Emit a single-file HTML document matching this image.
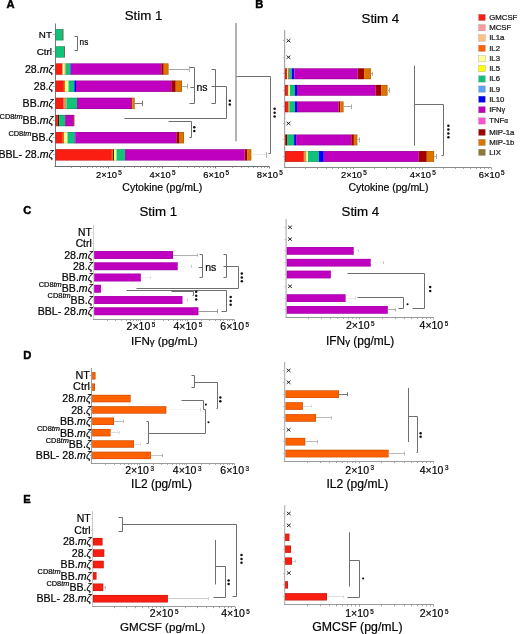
<!DOCTYPE html>
<html><head><meta charset="utf-8"><style>
html,body{margin:0;padding:0;background:#fff;}
svg{display:block;will-change:transform;}
text{stroke:#111;stroke-width:0.22px;}
text[font-weight=bold]{stroke:#000;stroke-width:0.45px;}
</style></head><body>
<svg width="520" height="634" viewBox="0 0 520 634" font-family="Liberation Sans, sans-serif">
<rect width="520" height="634" fill="#fff"/>
<text x="6.60" y="7.80" font-size="11.2" text-anchor="start" font-weight="bold" font-style="normal" fill="#000">A</text>
<text x="255.20" y="7.50" font-size="11.2" text-anchor="start" font-weight="bold" font-style="normal" fill="#000">B</text>
<text x="143.50" y="20.20" font-size="13.3" text-anchor="middle" font-weight="normal" font-style="normal" fill="#000">Stim 1</text>
<text x="380.40" y="23.10" font-size="13.3" text-anchor="middle" font-weight="normal" font-style="normal" fill="#000">Stim 4</text>
<line x1="55.50" y1="23.50" x2="55.50" y2="166.70" stroke="#7a7a7a" stroke-width="1.0"/>
<line x1="54.50" y1="166.50" x2="269.50" y2="166.50" stroke="#6a6a6a" stroke-width="1"/>
<line x1="53.20" y1="34.50" x2="54.50" y2="34.50" stroke="#7a7a7a" stroke-width="0.8"/>
<line x1="53.20" y1="51.50" x2="54.50" y2="51.50" stroke="#7a7a7a" stroke-width="0.8"/>
<line x1="53.20" y1="69.50" x2="54.50" y2="69.50" stroke="#7a7a7a" stroke-width="0.8"/>
<line x1="53.20" y1="86.50" x2="54.50" y2="86.50" stroke="#7a7a7a" stroke-width="0.8"/>
<line x1="53.20" y1="103.50" x2="54.50" y2="103.50" stroke="#7a7a7a" stroke-width="0.8"/>
<line x1="53.20" y1="120.50" x2="54.50" y2="120.50" stroke="#7a7a7a" stroke-width="0.8"/>
<line x1="53.20" y1="137.50" x2="54.50" y2="137.50" stroke="#7a7a7a" stroke-width="0.8"/>
<line x1="53.20" y1="154.50" x2="54.50" y2="154.50" stroke="#7a7a7a" stroke-width="0.8"/>
<line x1="71.50" y1="166.70" x2="71.50" y2="168.00" stroke="#999" stroke-width="0.9"/>
<line x1="80.50" y1="166.70" x2="80.50" y2="168.00" stroke="#999" stroke-width="0.9"/>
<line x1="87.50" y1="166.70" x2="87.50" y2="168.00" stroke="#999" stroke-width="0.9"/>
<line x1="92.50" y1="166.70" x2="92.50" y2="168.00" stroke="#999" stroke-width="0.9"/>
<line x1="96.50" y1="166.70" x2="96.50" y2="168.00" stroke="#999" stroke-width="0.9"/>
<line x1="100.50" y1="166.70" x2="100.50" y2="168.00" stroke="#999" stroke-width="0.9"/>
<line x1="103.50" y1="166.70" x2="103.50" y2="168.00" stroke="#999" stroke-width="0.9"/>
<line x1="106.50" y1="166.70" x2="106.50" y2="168.00" stroke="#999" stroke-width="0.9"/>
<line x1="124.50" y1="166.70" x2="124.50" y2="168.00" stroke="#999" stroke-width="0.9"/>
<line x1="134.50" y1="166.70" x2="134.50" y2="168.00" stroke="#999" stroke-width="0.9"/>
<line x1="140.50" y1="166.70" x2="140.50" y2="168.00" stroke="#999" stroke-width="0.9"/>
<line x1="146.50" y1="166.70" x2="146.50" y2="168.00" stroke="#999" stroke-width="0.9"/>
<line x1="150.50" y1="166.70" x2="150.50" y2="168.00" stroke="#999" stroke-width="0.9"/>
<line x1="153.50" y1="166.70" x2="153.50" y2="168.00" stroke="#999" stroke-width="0.9"/>
<line x1="157.50" y1="166.70" x2="157.50" y2="168.00" stroke="#999" stroke-width="0.9"/>
<line x1="159.50" y1="166.70" x2="159.50" y2="168.00" stroke="#999" stroke-width="0.9"/>
<line x1="178.50" y1="166.70" x2="178.50" y2="168.00" stroke="#999" stroke-width="0.9"/>
<line x1="187.50" y1="166.70" x2="187.50" y2="168.00" stroke="#999" stroke-width="0.9"/>
<line x1="194.50" y1="166.70" x2="194.50" y2="168.00" stroke="#999" stroke-width="0.9"/>
<line x1="199.50" y1="166.70" x2="199.50" y2="168.00" stroke="#999" stroke-width="0.9"/>
<line x1="203.50" y1="166.70" x2="203.50" y2="168.00" stroke="#999" stroke-width="0.9"/>
<line x1="207.50" y1="166.70" x2="207.50" y2="168.00" stroke="#999" stroke-width="0.9"/>
<line x1="210.50" y1="166.70" x2="210.50" y2="168.00" stroke="#999" stroke-width="0.9"/>
<line x1="213.50" y1="166.70" x2="213.50" y2="168.00" stroke="#999" stroke-width="0.9"/>
<line x1="232.50" y1="166.70" x2="232.50" y2="168.00" stroke="#999" stroke-width="0.9"/>
<line x1="241.50" y1="166.70" x2="241.50" y2="168.00" stroke="#999" stroke-width="0.9"/>
<line x1="248.50" y1="166.70" x2="248.50" y2="168.00" stroke="#999" stroke-width="0.9"/>
<line x1="253.50" y1="166.70" x2="253.50" y2="168.00" stroke="#999" stroke-width="0.9"/>
<line x1="257.50" y1="166.70" x2="257.50" y2="168.00" stroke="#999" stroke-width="0.9"/>
<line x1="261.50" y1="166.70" x2="261.50" y2="168.00" stroke="#999" stroke-width="0.9"/>
<line x1="264.50" y1="166.70" x2="264.50" y2="168.00" stroke="#999" stroke-width="0.9"/>
<line x1="267.50" y1="166.70" x2="267.50" y2="168.00" stroke="#999" stroke-width="0.9"/>
<line x1="108.50" y1="166.70" x2="108.50" y2="168.40" stroke="#6a6a6a" stroke-width="0.9"/>
<line x1="162.50" y1="166.70" x2="162.50" y2="168.40" stroke="#6a6a6a" stroke-width="0.9"/>
<line x1="215.50" y1="166.70" x2="215.50" y2="168.40" stroke="#6a6a6a" stroke-width="0.9"/>
<line x1="269.50" y1="166.70" x2="269.50" y2="168.40" stroke="#6a6a6a" stroke-width="0.9"/>
<rect x="55.50" y="29.10" width="7.20" height="11.30" fill="#10c27a"/>
<rect x="62.70" y="29.10" width="0.60" height="11.30" fill="#3a1a00"/>
<rect x="55.80" y="29.40" width="7.20" height="10.70" fill="none" stroke="#000" stroke-opacity="0.22" stroke-width="0.6"/>
<rect x="55.50" y="46.26" width="8.50" height="11.30" fill="#10c27a"/>
<rect x="64.00" y="46.26" width="0.60" height="11.30" fill="#3a1a00"/>
<rect x="55.80" y="46.56" width="8.50" height="10.70" fill="none" stroke="#000" stroke-opacity="0.22" stroke-width="0.6"/>
<rect x="55.50" y="63.42" width="6.70" height="11.30" fill="#fa1e12"/>
<rect x="62.20" y="63.42" width="0.80" height="11.30" fill="#c8a050"/>
<rect x="63.00" y="63.42" width="1.60" height="11.30" fill="#ffff99"/>
<rect x="64.60" y="63.42" width="1.20" height="11.30" fill="#c8a050"/>
<rect x="65.80" y="63.42" width="4.70" height="11.30" fill="#10c27a"/>
<rect x="70.50" y="63.42" width="0.50" height="11.30" fill="#0000ff"/>
<rect x="71.00" y="63.42" width="90.25" height="11.30" fill="#bf00bf"/>
<rect x="161.25" y="63.42" width="2.50" height="11.30" fill="#a00000"/>
<rect x="163.75" y="63.42" width="4.75" height="11.30" fill="#dc7400"/>
<rect x="55.80" y="63.72" width="112.40" height="10.70" fill="none" stroke="#000" stroke-opacity="0.22" stroke-width="0.6"/>
<rect x="55.50" y="80.58" width="8.40" height="11.30" fill="#fa1e12"/>
<rect x="63.90" y="80.58" width="1.10" height="11.30" fill="#dc7400"/>
<rect x="65.00" y="80.58" width="3.50" height="11.30" fill="#ffff99"/>
<rect x="68.50" y="80.58" width="5.80" height="11.30" fill="#10c27a"/>
<rect x="74.30" y="80.58" width="1.70" height="11.30" fill="#0000ff"/>
<rect x="76.00" y="80.58" width="95.25" height="11.30" fill="#bf00bf"/>
<rect x="171.25" y="80.58" width="4.50" height="11.30" fill="#a00000"/>
<rect x="175.75" y="80.58" width="6.25" height="11.30" fill="#dc7400"/>
<rect x="55.80" y="80.88" width="125.90" height="10.70" fill="none" stroke="#000" stroke-opacity="0.22" stroke-width="0.6"/>
<rect x="55.50" y="97.74" width="8.20" height="11.30" fill="#fa1e12"/>
<rect x="63.70" y="97.74" width="2.90" height="11.30" fill="#c8a050"/>
<rect x="66.60" y="97.74" width="10.40" height="11.30" fill="#10c27a"/>
<rect x="77.00" y="97.74" width="54.20" height="11.30" fill="#bf00bf"/>
<rect x="131.20" y="97.74" width="1.10" height="11.30" fill="#a00000"/>
<rect x="132.30" y="97.74" width="2.30" height="11.30" fill="#dc7400"/>
<rect x="55.80" y="98.04" width="78.50" height="10.70" fill="none" stroke="#000" stroke-opacity="0.22" stroke-width="0.6"/>
<rect x="55.50" y="114.90" width="2.30" height="11.30" fill="#fa1e12"/>
<rect x="57.80" y="114.90" width="1.30" height="11.30" fill="#3a1a00"/>
<rect x="59.10" y="114.90" width="6.00" height="11.30" fill="#10c27a"/>
<rect x="65.10" y="114.90" width="8.30" height="11.30" fill="#bf00bf"/>
<rect x="73.40" y="114.90" width="0.90" height="11.30" fill="#a00000"/>
<rect x="55.80" y="115.20" width="18.20" height="10.70" fill="none" stroke="#000" stroke-opacity="0.22" stroke-width="0.6"/>
<rect x="55.50" y="132.06" width="7.30" height="11.30" fill="#fa1e12"/>
<rect x="62.80" y="132.06" width="1.20" height="11.30" fill="#dc7400"/>
<rect x="64.00" y="132.06" width="3.50" height="11.30" fill="#ffff99"/>
<rect x="67.50" y="132.06" width="7.20" height="11.30" fill="#10c27a"/>
<rect x="74.70" y="132.06" width="0.60" height="11.30" fill="#0000ff"/>
<rect x="75.30" y="132.06" width="101.00" height="11.30" fill="#bf00bf"/>
<rect x="176.30" y="132.06" width="3.30" height="11.30" fill="#a00000"/>
<rect x="179.60" y="132.06" width="4.40" height="11.30" fill="#dc7400"/>
<rect x="55.80" y="132.36" width="127.90" height="10.70" fill="none" stroke="#000" stroke-opacity="0.22" stroke-width="0.6"/>
<rect x="55.50" y="149.22" width="56.40" height="11.30" fill="#fa1e12"/>
<rect x="111.90" y="149.22" width="1.10" height="11.30" fill="#dc7400"/>
<rect x="113.00" y="149.22" width="1.00" height="11.30" fill="#3a1a00"/>
<rect x="114.00" y="149.22" width="2.50" height="11.30" fill="#ffff99"/>
<rect x="116.50" y="149.22" width="8.50" height="11.30" fill="#10c27a"/>
<rect x="125.00" y="149.22" width="119.60" height="11.30" fill="#bf00bf"/>
<rect x="244.60" y="149.22" width="2.90" height="11.30" fill="#a00000"/>
<rect x="247.50" y="149.22" width="3.80" height="11.30" fill="#dc7400"/>
<rect x="55.80" y="149.52" width="195.20" height="10.70" fill="none" stroke="#000" stroke-opacity="0.22" stroke-width="0.6"/>
<line x1="168.50" y1="69.50" x2="189.20" y2="69.50" stroke="#a8a8a8" stroke-width="1.0"/>
<line x1="189.50" y1="66.07" x2="189.50" y2="72.07" stroke="#bbb" stroke-width="1.0"/>
<line x1="182.00" y1="86.50" x2="187.00" y2="86.50" stroke="#aaa" stroke-width="1.0"/>
<line x1="187.50" y1="83.73" x2="187.50" y2="88.73" stroke="#aaa" stroke-width="1.0"/>
<line x1="134.60" y1="103.50" x2="142.70" y2="103.50" stroke="#777" stroke-width="1.0"/>
<line x1="142.50" y1="100.64" x2="142.50" y2="106.14" stroke="#777" stroke-width="1.0"/>
<line x1="251.30" y1="154.50" x2="266.20" y2="154.50" stroke="#eaeaea" stroke-width="1.0"/>
<line x1="266.50" y1="151.87" x2="266.50" y2="157.87" stroke="#c0c0c0" stroke-width="1.0"/>
<text x="51.90" y="38.05" font-size="9.8" text-anchor="end" font-weight="normal" font-style="normal" fill="#000">NT</text>
<text x="51.90" y="55.21" font-size="9.8" text-anchor="end" font-weight="normal" font-style="normal" fill="#000">Ctrl</text>
<text x="53.40" y="72.67" font-size="10.6" text-anchor="end" fill="#000"><tspan>28.</tspan><tspan font-style="italic">mζ</tspan></text>
<text x="53.40" y="89.83" font-size="10.6" text-anchor="end" fill="#000"><tspan>28.</tspan><tspan font-style="italic">ζ</tspan></text>
<text x="53.40" y="106.99" font-size="10.6" text-anchor="end" fill="#000"><tspan>BB.</tspan><tspan font-style="italic">mζ</tspan></text>
<text x="53.40" y="124.15" font-size="10.6" text-anchor="end" fill="#000"><tspan font-size="7.4" dy="-5.3">CD8<tspan font-style="italic">tm</tspan></tspan><tspan dy="5.3">BB.</tspan><tspan font-style="italic">mζ</tspan></text>
<text x="53.40" y="141.31" font-size="10.6" text-anchor="end" fill="#000"><tspan font-size="7.4" dy="-5.3">CD8<tspan font-style="italic">tm</tspan></tspan><tspan dy="5.3">BB.</tspan><tspan font-style="italic">ζ</tspan></text>
<text x="53.40" y="158.47" font-size="10.6" text-anchor="end" fill="#000"><tspan>BBL- 28.</tspan><tspan font-style="italic">mζ</tspan></text>
<polyline points="74.50,36.50 77.50,36.50 77.50,50.50 74.50,50.50" fill="none" stroke="#6e6e6e" stroke-width="1"/>
<text x="79.60" y="45.30" font-size="8.2" text-anchor="start" font-weight="normal" font-style="normal" fill="#000">ns</text>
<polyline points="189.50,67.50 194.50,67.50 194.50,103.50 189.50,103.50" fill="none" stroke="#6e6e6e" stroke-width="1"/>
<line x1="190.40" y1="87.50" x2="194.10" y2="87.50" stroke="#6e6e6e" stroke-width="1"/>
<text x="196.40" y="91.40" font-size="10.5" text-anchor="start" font-weight="normal" font-style="normal" fill="#000">ns</text>
<polyline points="211.50,69.50 215.50,69.50 215.50,103.50 211.50,103.50" fill="none" stroke="#6e6e6e" stroke-width="1"/>
<polyline points="211.50,86.50 226.50,86.50 226.50,118.50 124.50,118.50" fill="none" stroke="#6e6e6e" stroke-width="1"/>
<circle cx="229.80" cy="100.80" r="1.25" fill="#111"/>
<circle cx="229.80" cy="104.40" r="1.25" fill="#111"/>
<polyline points="168.50,121.50 191.50,121.50 191.50,137.50 189.50,137.50" fill="none" stroke="#6e6e6e" stroke-width="1"/>
<circle cx="194.30" cy="127.30" r="1.25" fill="#111"/>
<circle cx="194.30" cy="130.90" r="1.25" fill="#111"/>
<line x1="236.00" y1="23.10" x2="236.00" y2="141.30" stroke="#8a8a8a" stroke-width="1.3"/>
<polyline points="236.50,76.50 270.50,76.50 270.50,153.50 268.50,153.50" fill="none" stroke="#6e6e6e" stroke-width="1"/>
<circle cx="274.60" cy="108.80" r="1.25" fill="#111"/>
<circle cx="274.60" cy="112.70" r="1.25" fill="#111"/>
<circle cx="274.60" cy="116.60" r="1.25" fill="#111"/>
<text x="162.30" y="190.80" font-size="10.5" text-anchor="middle" font-weight="normal" font-style="normal" fill="#000">Cytokine (pg/mL)</text>
<text x="108.92" y="177.80" font-size="9.4" text-anchor="middle" fill="#000">2×10<tspan font-size="6.40" dx="1.20" dy="-3.00">5</tspan></text>
<text x="162.55" y="177.80" font-size="9.4" text-anchor="middle" fill="#000">4×10<tspan font-size="6.40" dx="1.20" dy="-3.00">5</tspan></text>
<text x="216.18" y="177.80" font-size="9.4" text-anchor="middle" fill="#000">6×10<tspan font-size="6.40" dx="1.20" dy="-3.00">5</tspan></text>
<text x="269.80" y="177.80" font-size="9.4" text-anchor="middle" fill="#000">8×10<tspan font-size="6.40" dx="1.20" dy="-3.00">5</tspan></text>
<line x1="284.60" y1="30.00" x2="284.60" y2="167.70" stroke="#a8a8a8" stroke-width="1.3"/>
<line x1="284.10" y1="167.50" x2="491.40" y2="167.50" stroke="#8a8a8a" stroke-width="1"/>
<line x1="282.80" y1="40.50" x2="284.10" y2="40.50" stroke="#a8a8a8" stroke-width="0.8"/>
<line x1="282.80" y1="57.50" x2="284.10" y2="57.50" stroke="#a8a8a8" stroke-width="0.8"/>
<line x1="282.80" y1="73.50" x2="284.10" y2="73.50" stroke="#a8a8a8" stroke-width="0.8"/>
<line x1="282.80" y1="90.50" x2="284.10" y2="90.50" stroke="#a8a8a8" stroke-width="0.8"/>
<line x1="282.80" y1="106.50" x2="284.10" y2="106.50" stroke="#a8a8a8" stroke-width="0.8"/>
<line x1="282.80" y1="123.50" x2="284.10" y2="123.50" stroke="#a8a8a8" stroke-width="0.8"/>
<line x1="282.80" y1="139.50" x2="284.10" y2="139.50" stroke="#a8a8a8" stroke-width="0.8"/>
<line x1="282.80" y1="156.50" x2="284.10" y2="156.50" stroke="#a8a8a8" stroke-width="0.8"/>
<line x1="305.50" y1="167.70" x2="305.50" y2="169.00" stroke="#999" stroke-width="0.9"/>
<line x1="317.50" y1="167.70" x2="317.50" y2="169.00" stroke="#999" stroke-width="0.9"/>
<line x1="326.50" y1="167.70" x2="326.50" y2="169.00" stroke="#999" stroke-width="0.9"/>
<line x1="332.50" y1="167.70" x2="332.50" y2="169.00" stroke="#999" stroke-width="0.9"/>
<line x1="338.50" y1="167.70" x2="338.50" y2="169.00" stroke="#999" stroke-width="0.9"/>
<line x1="342.50" y1="167.70" x2="342.50" y2="169.00" stroke="#999" stroke-width="0.9"/>
<line x1="346.50" y1="167.70" x2="346.50" y2="169.00" stroke="#999" stroke-width="0.9"/>
<line x1="350.50" y1="167.70" x2="350.50" y2="169.00" stroke="#999" stroke-width="0.9"/>
<line x1="374.50" y1="167.70" x2="374.50" y2="169.00" stroke="#999" stroke-width="0.9"/>
<line x1="386.50" y1="167.70" x2="386.50" y2="169.00" stroke="#999" stroke-width="0.9"/>
<line x1="395.50" y1="167.70" x2="395.50" y2="169.00" stroke="#999" stroke-width="0.9"/>
<line x1="401.50" y1="167.70" x2="401.50" y2="169.00" stroke="#999" stroke-width="0.9"/>
<line x1="407.50" y1="167.70" x2="407.50" y2="169.00" stroke="#999" stroke-width="0.9"/>
<line x1="411.50" y1="167.70" x2="411.50" y2="169.00" stroke="#999" stroke-width="0.9"/>
<line x1="415.50" y1="167.70" x2="415.50" y2="169.00" stroke="#999" stroke-width="0.9"/>
<line x1="419.50" y1="167.70" x2="419.50" y2="169.00" stroke="#999" stroke-width="0.9"/>
<line x1="443.50" y1="167.70" x2="443.50" y2="169.00" stroke="#999" stroke-width="0.9"/>
<line x1="455.50" y1="167.70" x2="455.50" y2="169.00" stroke="#999" stroke-width="0.9"/>
<line x1="463.50" y1="167.70" x2="463.50" y2="169.00" stroke="#999" stroke-width="0.9"/>
<line x1="470.50" y1="167.70" x2="470.50" y2="169.00" stroke="#999" stroke-width="0.9"/>
<line x1="476.50" y1="167.70" x2="476.50" y2="169.00" stroke="#999" stroke-width="0.9"/>
<line x1="480.50" y1="167.70" x2="480.50" y2="169.00" stroke="#999" stroke-width="0.9"/>
<line x1="484.50" y1="167.70" x2="484.50" y2="169.00" stroke="#999" stroke-width="0.9"/>
<line x1="488.50" y1="167.70" x2="488.50" y2="169.00" stroke="#999" stroke-width="0.9"/>
<line x1="353.50" y1="167.70" x2="353.50" y2="169.40" stroke="#8a8a8a" stroke-width="0.9"/>
<line x1="422.50" y1="167.70" x2="422.50" y2="169.40" stroke="#8a8a8a" stroke-width="0.9"/>
<line x1="491.50" y1="167.70" x2="491.50" y2="169.40" stroke="#8a8a8a" stroke-width="0.9"/>
<path d="M286.60,39.09L290.40,42.32M290.40,39.09L286.60,42.32" stroke="#1a1a1a" stroke-width="0.95" fill="none"/>
<path d="M286.60,55.62L290.40,58.86M290.40,55.62L286.60,58.86" stroke="#1a1a1a" stroke-width="0.95" fill="none"/>
<path d="M286.60,121.78L290.40,125.01M290.40,121.78L286.60,125.01" stroke="#1a1a1a" stroke-width="0.95" fill="none"/>
<rect x="285.00" y="68.38" width="2.00" height="10.80" fill="#fa1e12"/>
<rect x="287.00" y="68.38" width="1.50" height="10.80" fill="#ffff99"/>
<rect x="288.50" y="68.38" width="1.00" height="10.80" fill="#3a1a00"/>
<rect x="289.50" y="68.38" width="2.30" height="10.80" fill="#10c27a"/>
<rect x="291.80" y="68.38" width="2.50" height="10.80" fill="#0000ff"/>
<rect x="294.30" y="68.38" width="63.40" height="10.80" fill="#bf00bf"/>
<rect x="357.70" y="68.38" width="6.40" height="10.80" fill="#a00000"/>
<rect x="364.10" y="68.38" width="6.80" height="10.80" fill="#dc7400"/>
<rect x="285.30" y="68.68" width="85.30" height="10.20" fill="none" stroke="#000" stroke-opacity="0.22" stroke-width="0.6"/>
<rect x="285.00" y="84.92" width="2.40" height="10.80" fill="#fa1e12"/>
<rect x="287.40" y="84.92" width="0.90" height="10.80" fill="#a00000"/>
<rect x="288.30" y="84.92" width="1.70" height="10.80" fill="#ffff99"/>
<rect x="290.00" y="84.92" width="4.90" height="10.80" fill="#10c27a"/>
<rect x="294.90" y="84.92" width="2.10" height="10.80" fill="#0000ff"/>
<rect x="297.00" y="84.92" width="78.40" height="10.80" fill="#bf00bf"/>
<rect x="375.40" y="84.92" width="5.70" height="10.80" fill="#a00000"/>
<rect x="381.10" y="84.92" width="6.40" height="10.80" fill="#dc7400"/>
<rect x="285.30" y="85.22" width="101.90" height="10.20" fill="none" stroke="#000" stroke-opacity="0.22" stroke-width="0.6"/>
<rect x="285.00" y="101.46" width="3.00" height="10.80" fill="#fa1e12"/>
<rect x="288.00" y="101.46" width="1.50" height="10.80" fill="#c8a050"/>
<rect x="289.50" y="101.46" width="5.40" height="10.80" fill="#10c27a"/>
<rect x="294.90" y="101.46" width="2.10" height="10.80" fill="#0000ff"/>
<rect x="297.00" y="101.46" width="41.50" height="10.80" fill="#bf00bf"/>
<rect x="338.50" y="101.46" width="1.70" height="10.80" fill="#a00000"/>
<rect x="340.20" y="101.46" width="3.30" height="10.80" fill="#dc7400"/>
<rect x="285.30" y="101.76" width="57.90" height="10.20" fill="none" stroke="#000" stroke-opacity="0.22" stroke-width="0.6"/>
<rect x="285.00" y="134.54" width="1.00" height="10.80" fill="#fa1e12"/>
<rect x="286.00" y="134.54" width="1.50" height="10.80" fill="#3a1a00"/>
<rect x="287.50" y="134.54" width="6.60" height="10.80" fill="#10c27a"/>
<rect x="294.10" y="134.54" width="2.00" height="10.80" fill="#0000ff"/>
<rect x="296.10" y="134.54" width="55.20" height="10.80" fill="#bf00bf"/>
<rect x="351.30" y="134.54" width="2.60" height="10.80" fill="#a00000"/>
<rect x="353.90" y="134.54" width="3.40" height="10.80" fill="#dc7400"/>
<rect x="285.30" y="134.84" width="71.70" height="10.20" fill="none" stroke="#000" stroke-opacity="0.22" stroke-width="0.6"/>
<rect x="285.00" y="151.08" width="18.90" height="10.80" fill="#fa1e12"/>
<rect x="303.90" y="151.08" width="2.60" height="10.80" fill="#c8a050"/>
<rect x="306.50" y="151.08" width="1.50" height="10.80" fill="#ffff99"/>
<rect x="308.00" y="151.08" width="10.90" height="10.80" fill="#10c27a"/>
<rect x="318.90" y="151.08" width="4.90" height="10.80" fill="#0000ff"/>
<rect x="323.80" y="151.08" width="95.00" height="10.80" fill="#bf00bf"/>
<rect x="418.80" y="151.08" width="8.00" height="10.80" fill="#a00000"/>
<rect x="426.80" y="151.08" width="7.30" height="10.80" fill="#dc7400"/>
<rect x="285.30" y="151.38" width="148.50" height="10.20" fill="none" stroke="#000" stroke-opacity="0.22" stroke-width="0.6"/>
<line x1="370.90" y1="73.50" x2="372.60" y2="73.50" stroke="#aaa" stroke-width="1.0"/>
<line x1="372.50" y1="71.78" x2="372.50" y2="75.78" stroke="#aaa" stroke-width="1.0"/>
<line x1="387.50" y1="90.50" x2="389.00" y2="90.50" stroke="#aaa" stroke-width="1.0"/>
<line x1="389.50" y1="87.82" x2="389.50" y2="92.82" stroke="#aaa" stroke-width="1.0"/>
<line x1="343.50" y1="106.50" x2="351.30" y2="106.50" stroke="#aaa" stroke-width="1.0"/>
<line x1="351.50" y1="104.36" x2="351.50" y2="109.36" stroke="#aaa" stroke-width="1.0"/>
<line x1="357.30" y1="139.50" x2="359.00" y2="139.50" stroke="#aaa" stroke-width="1.0"/>
<line x1="359.50" y1="137.44" x2="359.50" y2="142.44" stroke="#aaa" stroke-width="1.0"/>
<line x1="434.10" y1="156.50" x2="436.00" y2="156.50" stroke="#aaa" stroke-width="1.0"/>
<line x1="436.50" y1="153.98" x2="436.50" y2="158.98" stroke="#aaa" stroke-width="1.0"/>
<line x1="414.50" y1="65.60" x2="414.50" y2="145.50" stroke="#6e6e6e" stroke-width="1"/>
<polyline points="414.50,104.50 443.50,104.50 443.50,155.50 441.50,155.50" fill="none" stroke="#6e6e6e" stroke-width="1"/>
<circle cx="448.40" cy="125.80" r="1.25" fill="#111"/>
<circle cx="448.40" cy="129.60" r="1.25" fill="#111"/>
<circle cx="448.40" cy="133.40" r="1.25" fill="#111"/>
<circle cx="448.40" cy="137.20" r="1.25" fill="#111"/>
<text x="388.50" y="190.80" font-size="10.5" text-anchor="middle" font-weight="normal" font-style="normal" fill="#000">Cytokine (pg/mL)</text>
<text x="353.90" y="177.70" font-size="9.4" text-anchor="middle" fill="#000">2×10<tspan font-size="6.40" dx="1.20" dy="-3.00">5</tspan></text>
<text x="422.80" y="177.70" font-size="9.4" text-anchor="middle" fill="#000">4×10<tspan font-size="6.40" dx="1.20" dy="-3.00">5</tspan></text>
<text x="491.70" y="177.70" font-size="9.4" text-anchor="middle" fill="#000">6×10<tspan font-size="6.40" dx="1.20" dy="-3.00">5</tspan></text>
<rect x="478.6" y="14.30" width="6.7" height="6.3" fill="#fa1e12" stroke="#888" stroke-width="0.3"/>
<text x="489.20" y="19.90" font-size="7.8" text-anchor="start" font-weight="normal" font-style="normal" fill="#222">GMCSF</text>
<rect x="478.6" y="24.60" width="6.7" height="6.3" fill="#ff9a9a" stroke="#888" stroke-width="0.3"/>
<text x="489.20" y="30.20" font-size="7.8" text-anchor="start" font-weight="normal" font-style="normal" fill="#222">MCSF</text>
<rect x="478.6" y="34.80" width="6.7" height="6.3" fill="#ffc080" stroke="#888" stroke-width="0.3"/>
<text x="489.20" y="40.40" font-size="7.8" text-anchor="start" font-weight="normal" font-style="normal" fill="#222">IL1a</text>
<rect x="478.6" y="45.10" width="6.7" height="6.3" fill="#ff6000" stroke="#888" stroke-width="0.3"/>
<text x="489.20" y="50.70" font-size="7.8" text-anchor="start" font-weight="normal" font-style="normal" fill="#222">IL2</text>
<rect x="478.6" y="55.60" width="6.7" height="6.3" fill="#ffff99" stroke="#888" stroke-width="0.3"/>
<text x="489.20" y="61.20" font-size="7.8" text-anchor="start" font-weight="normal" font-style="normal" fill="#222">IL3</text>
<rect x="478.6" y="65.40" width="6.7" height="6.3" fill="#ffff00" stroke="#888" stroke-width="0.3"/>
<text x="489.20" y="71.00" font-size="7.8" text-anchor="start" font-weight="normal" font-style="normal" fill="#222">IL5</text>
<rect x="478.6" y="75.80" width="6.7" height="6.3" fill="#10c27a" stroke="#888" stroke-width="0.3"/>
<text x="489.20" y="81.40" font-size="7.8" text-anchor="start" font-weight="normal" font-style="normal" fill="#222">IL6</text>
<rect x="478.6" y="85.90" width="6.7" height="6.3" fill="#5aa2ff" stroke="#888" stroke-width="0.3"/>
<text x="489.20" y="91.50" font-size="7.8" text-anchor="start" font-weight="normal" font-style="normal" fill="#222">IL9</text>
<rect x="478.6" y="96.10" width="6.7" height="6.3" fill="#0000ff" stroke="#888" stroke-width="0.3"/>
<text x="489.20" y="101.70" font-size="7.8" text-anchor="start" font-weight="normal" font-style="normal" fill="#222">IL10</text>
<rect x="478.6" y="106.60" width="6.7" height="6.3" fill="#bf00bf" stroke="#888" stroke-width="0.3"/>
<text x="489.2" y="112.20" font-size="7.8" fill="#222">IFN<tspan font-size="6.5">γ</tspan></text>
<rect x="478.6" y="117.80" width="6.7" height="6.3" fill="#ff4fd6" stroke="#888" stroke-width="0.3"/>
<text x="489.2" y="123.40" font-size="7.8" fill="#222">TNF<tspan font-size="6.5">α</tspan></text>
<rect x="478.6" y="129.20" width="6.7" height="6.3" fill="#a00000" stroke="#888" stroke-width="0.3"/>
<text x="489.20" y="134.80" font-size="7.8" text-anchor="start" font-weight="normal" font-style="normal" fill="#222">MIP-1a</text>
<rect x="478.6" y="139.30" width="6.7" height="6.3" fill="#dc7400" stroke="#888" stroke-width="0.3"/>
<text x="489.20" y="144.90" font-size="7.8" text-anchor="start" font-weight="normal" font-style="normal" fill="#222">MIP-1b</text>
<rect x="478.6" y="149.20" width="6.7" height="6.3" fill="#8a7a34" stroke="#888" stroke-width="0.3"/>
<text x="489.20" y="154.80" font-size="7.8" text-anchor="start" font-weight="normal" font-style="normal" fill="#222">LIX</text>
<text x="23.20" y="214.10" font-size="11.2" text-anchor="start" font-weight="bold" font-style="normal" fill="#000">C</text>
<text x="158.30" y="215.80" font-size="13.3" text-anchor="middle" font-weight="normal" font-style="normal" fill="#000">Stim 1</text>
<text x="360.40" y="215.80" font-size="13.3" text-anchor="middle" font-weight="normal" font-style="normal" fill="#000">Stim 4</text>
<line x1="93.50" y1="224.70" x2="93.50" y2="319.70" stroke="#d0d0d0" stroke-width="1.0"/>
<line x1="93.00" y1="319.50" x2="234.40" y2="319.50" stroke="#9a9a9a" stroke-width="1"/>
<line x1="91.70" y1="232.50" x2="93.00" y2="232.50" stroke="#d0d0d0" stroke-width="0.8"/>
<line x1="91.70" y1="243.50" x2="93.00" y2="243.50" stroke="#d0d0d0" stroke-width="0.8"/>
<line x1="91.70" y1="255.50" x2="93.00" y2="255.50" stroke="#d0d0d0" stroke-width="0.8"/>
<line x1="91.70" y1="266.50" x2="93.00" y2="266.50" stroke="#d0d0d0" stroke-width="0.8"/>
<line x1="91.70" y1="277.50" x2="93.00" y2="277.50" stroke="#d0d0d0" stroke-width="0.8"/>
<line x1="91.70" y1="288.50" x2="93.00" y2="288.50" stroke="#d0d0d0" stroke-width="0.8"/>
<line x1="91.70" y1="300.50" x2="93.00" y2="300.50" stroke="#d0d0d0" stroke-width="0.8"/>
<line x1="91.70" y1="311.50" x2="93.00" y2="311.50" stroke="#d0d0d0" stroke-width="0.8"/>
<line x1="107.50" y1="319.70" x2="107.50" y2="321.00" stroke="#999" stroke-width="0.9"/>
<line x1="115.50" y1="319.70" x2="115.50" y2="321.00" stroke="#999" stroke-width="0.9"/>
<line x1="121.50" y1="319.70" x2="121.50" y2="321.00" stroke="#999" stroke-width="0.9"/>
<line x1="126.50" y1="319.70" x2="126.50" y2="321.00" stroke="#999" stroke-width="0.9"/>
<line x1="130.50" y1="319.70" x2="130.50" y2="321.00" stroke="#999" stroke-width="0.9"/>
<line x1="133.50" y1="319.70" x2="133.50" y2="321.00" stroke="#999" stroke-width="0.9"/>
<line x1="136.50" y1="319.70" x2="136.50" y2="321.00" stroke="#999" stroke-width="0.9"/>
<line x1="138.50" y1="319.70" x2="138.50" y2="321.00" stroke="#999" stroke-width="0.9"/>
<line x1="154.50" y1="319.70" x2="154.50" y2="321.00" stroke="#999" stroke-width="0.9"/>
<line x1="163.50" y1="319.70" x2="163.50" y2="321.00" stroke="#999" stroke-width="0.9"/>
<line x1="168.50" y1="319.70" x2="168.50" y2="321.00" stroke="#999" stroke-width="0.9"/>
<line x1="173.50" y1="319.70" x2="173.50" y2="321.00" stroke="#999" stroke-width="0.9"/>
<line x1="177.50" y1="319.70" x2="177.50" y2="321.00" stroke="#999" stroke-width="0.9"/>
<line x1="180.50" y1="319.70" x2="180.50" y2="321.00" stroke="#999" stroke-width="0.9"/>
<line x1="182.50" y1="319.70" x2="182.50" y2="321.00" stroke="#999" stroke-width="0.9"/>
<line x1="185.50" y1="319.70" x2="185.50" y2="321.00" stroke="#999" stroke-width="0.9"/>
<line x1="201.50" y1="319.70" x2="201.50" y2="321.00" stroke="#999" stroke-width="0.9"/>
<line x1="209.50" y1="319.70" x2="209.50" y2="321.00" stroke="#999" stroke-width="0.9"/>
<line x1="215.50" y1="319.70" x2="215.50" y2="321.00" stroke="#999" stroke-width="0.9"/>
<line x1="220.50" y1="319.70" x2="220.50" y2="321.00" stroke="#999" stroke-width="0.9"/>
<line x1="223.50" y1="319.70" x2="223.50" y2="321.00" stroke="#999" stroke-width="0.9"/>
<line x1="227.50" y1="319.70" x2="227.50" y2="321.00" stroke="#999" stroke-width="0.9"/>
<line x1="229.50" y1="319.70" x2="229.50" y2="321.00" stroke="#999" stroke-width="0.9"/>
<line x1="232.50" y1="319.70" x2="232.50" y2="321.00" stroke="#999" stroke-width="0.9"/>
<line x1="140.50" y1="319.70" x2="140.50" y2="321.40" stroke="#9a9a9a" stroke-width="0.9"/>
<line x1="187.50" y1="319.70" x2="187.50" y2="321.40" stroke="#9a9a9a" stroke-width="0.9"/>
<line x1="234.50" y1="319.70" x2="234.50" y2="321.40" stroke="#9a9a9a" stroke-width="0.9"/>
<rect x="94.20" y="251.05" width="78.80" height="7.90" fill="#bf00bf"/>
<rect x="94.50" y="251.35" width="78.20" height="7.30" fill="none" stroke="#000" stroke-opacity="0.15" stroke-width="0.6"/>
<rect x="94.20" y="262.30" width="83.50" height="7.90" fill="#bf00bf"/>
<rect x="94.50" y="262.60" width="82.90" height="7.30" fill="none" stroke="#000" stroke-opacity="0.15" stroke-width="0.6"/>
<rect x="94.20" y="273.55" width="46.60" height="7.90" fill="#bf00bf"/>
<rect x="94.50" y="273.85" width="46.00" height="7.30" fill="none" stroke="#000" stroke-opacity="0.15" stroke-width="0.6"/>
<rect x="94.20" y="284.80" width="6.70" height="7.90" fill="#bf00bf"/>
<rect x="94.50" y="285.10" width="6.10" height="7.30" fill="none" stroke="#000" stroke-opacity="0.15" stroke-width="0.6"/>
<rect x="94.20" y="296.05" width="88.30" height="7.90" fill="#bf00bf"/>
<rect x="94.50" y="296.35" width="87.70" height="7.30" fill="none" stroke="#000" stroke-opacity="0.15" stroke-width="0.6"/>
<rect x="94.20" y="307.30" width="104.20" height="7.90" fill="#bf00bf"/>
<rect x="94.50" y="307.60" width="103.60" height="7.30" fill="none" stroke="#000" stroke-opacity="0.15" stroke-width="0.6"/>
<line x1="173.00" y1="255.50" x2="197.20" y2="255.50" stroke="#b0b0b0" stroke-width="1.0"/>
<line x1="197.50" y1="253.50" x2="197.50" y2="256.50" stroke="#b0b0b0" stroke-width="1.0"/>
<line x1="177.70" y1="266.50" x2="191.00" y2="266.50" stroke="#f4f4f4" stroke-width="1.0"/>
<line x1="191.50" y1="264.75" x2="191.50" y2="267.75" stroke="#c8c8c8" stroke-width="1.0"/>
<line x1="140.80" y1="277.50" x2="150.50" y2="277.50" stroke="#eeeeee" stroke-width="1.0"/>
<line x1="150.50" y1="276.00" x2="150.50" y2="279.00" stroke="#e0e0e0" stroke-width="1.0"/>
<line x1="100.90" y1="288.50" x2="102.50" y2="288.50" stroke="#ddd" stroke-width="1.0"/>
<line x1="102.50" y1="287.25" x2="102.50" y2="290.25" stroke="#ddd" stroke-width="1.0"/>
<line x1="182.50" y1="300.50" x2="187.70" y2="300.50" stroke="#f4f4f4" stroke-width="1.0"/>
<line x1="187.50" y1="298.50" x2="187.50" y2="301.50" stroke="#c8c8c8" stroke-width="1.0"/>
<line x1="198.40" y1="311.50" x2="217.40" y2="311.50" stroke="#999" stroke-width="1.0"/>
<line x1="217.50" y1="309.25" x2="217.50" y2="313.25" stroke="#999" stroke-width="1.0"/>
<text x="91.70" y="235.80" font-size="10.3" text-anchor="end" font-weight="normal" font-style="normal" fill="#000">NT</text>
<text x="91.70" y="247.05" font-size="10.3" text-anchor="end" font-weight="normal" font-style="normal" fill="#000">Ctrl</text>
<text x="92.60" y="258.60" font-size="10.6" text-anchor="end" fill="#000"><tspan>28.</tspan><tspan font-style="italic">mζ</tspan></text>
<text x="92.60" y="269.85" font-size="10.6" text-anchor="end" fill="#000"><tspan>28.</tspan><tspan font-style="italic">ζ</tspan></text>
<text x="92.60" y="281.10" font-size="10.6" text-anchor="end" fill="#000"><tspan>BB.</tspan><tspan font-style="italic">mζ</tspan></text>
<text x="92.60" y="292.35" font-size="10.6" text-anchor="end" fill="#000"><tspan font-size="7.4" dy="-5.3">CD8<tspan font-style="italic">tm</tspan></tspan><tspan dy="5.3">BB.</tspan><tspan font-style="italic">mζ</tspan></text>
<text x="92.60" y="303.60" font-size="10.6" text-anchor="end" fill="#000"><tspan font-size="7.4" dy="-5.3">CD8<tspan font-style="italic">tm</tspan></tspan><tspan dy="5.3">BB.</tspan><tspan font-style="italic">ζ</tspan></text>
<text x="92.60" y="314.85" font-size="10.6" text-anchor="end" fill="#000"><tspan>BBL- 28.</tspan><tspan font-style="italic">mζ</tspan></text>
<polyline points="199.50,254.50 202.50,254.50 202.50,277.50 199.50,277.50" fill="none" stroke="#6e6e6e" stroke-width="1"/>
<line x1="198.40" y1="267.50" x2="202.40" y2="267.50" stroke="#6e6e6e" stroke-width="1"/>
<text x="205.20" y="270.60" font-size="10.5" text-anchor="start" font-weight="normal" font-style="normal" fill="#000">ns</text>
<polyline points="223.50,254.50 226.50,254.50 226.50,277.50 223.50,277.50" fill="none" stroke="#6e6e6e" stroke-width="1"/>
<polyline points="223.50,266.50 238.50,266.50 238.50,288.50 136.50,288.50" fill="none" stroke="#6e6e6e" stroke-width="1"/>
<circle cx="241.80" cy="273.50" r="1.25" fill="#111"/>
<circle cx="241.80" cy="277.40" r="1.25" fill="#111"/>
<circle cx="241.80" cy="281.30" r="1.25" fill="#111"/>
<polyline points="126.50,290.50 226.50,290.50 226.50,311.50 221.50,311.50" fill="none" stroke="#6e6e6e" stroke-width="1"/>
<circle cx="230.70" cy="297.00" r="1.25" fill="#111"/>
<circle cx="230.70" cy="300.90" r="1.25" fill="#111"/>
<circle cx="230.70" cy="304.80" r="1.25" fill="#111"/>
<polyline points="171.50,291.50 193.50,291.50 193.50,295.50 192.50,295.50" fill="none" stroke="#6e6e6e" stroke-width="1"/>
<circle cx="196.20" cy="291.80" r="1.25" fill="#111"/>
<circle cx="196.20" cy="295.70" r="1.25" fill="#111"/>
<circle cx="196.20" cy="299.60" r="1.25" fill="#111"/>
<text x="164.40" y="345.20" font-size="11.6" text-anchor="middle" font-weight="normal" font-style="normal" fill="#000">IFN<tspan font-size="0.82em">γ</tspan> (pg/mL)</text>
<text x="140.93" y="330.30" font-size="10.5" text-anchor="middle" fill="#000">2×10<tspan font-size="6.30" dx="1.50" dy="-3.40">5</tspan></text>
<text x="187.82" y="330.30" font-size="10.5" text-anchor="middle" fill="#000">4×10<tspan font-size="6.30" dx="1.50" dy="-3.40">5</tspan></text>
<text x="234.70" y="330.30" font-size="10.5" text-anchor="middle" fill="#000">6×10<tspan font-size="6.30" dx="1.50" dy="-3.40">5</tspan></text>
<line x1="286.10" y1="219.00" x2="286.10" y2="317.60" stroke="#b8b8b8" stroke-width="1.3"/>
<line x1="285.60" y1="317.50" x2="433.60" y2="317.50" stroke="#9a9a9a" stroke-width="1"/>
<line x1="284.30" y1="227.50" x2="285.60" y2="227.50" stroke="#b8b8b8" stroke-width="0.8"/>
<line x1="284.30" y1="239.50" x2="285.60" y2="239.50" stroke="#b8b8b8" stroke-width="0.8"/>
<line x1="284.30" y1="250.50" x2="285.60" y2="250.50" stroke="#b8b8b8" stroke-width="0.8"/>
<line x1="284.30" y1="262.50" x2="285.60" y2="262.50" stroke="#b8b8b8" stroke-width="0.8"/>
<line x1="284.30" y1="274.50" x2="285.60" y2="274.50" stroke="#b8b8b8" stroke-width="0.8"/>
<line x1="284.30" y1="286.50" x2="285.60" y2="286.50" stroke="#b8b8b8" stroke-width="0.8"/>
<line x1="284.30" y1="298.50" x2="285.60" y2="298.50" stroke="#b8b8b8" stroke-width="0.8"/>
<line x1="284.30" y1="309.50" x2="285.60" y2="309.50" stroke="#b8b8b8" stroke-width="0.8"/>
<line x1="308.50" y1="317.60" x2="308.50" y2="318.90" stroke="#999" stroke-width="0.9"/>
<line x1="321.50" y1="317.60" x2="321.50" y2="318.90" stroke="#999" stroke-width="0.9"/>
<line x1="330.50" y1="317.60" x2="330.50" y2="318.90" stroke="#999" stroke-width="0.9"/>
<line x1="337.50" y1="317.60" x2="337.50" y2="318.90" stroke="#999" stroke-width="0.9"/>
<line x1="343.50" y1="317.60" x2="343.50" y2="318.90" stroke="#999" stroke-width="0.9"/>
<line x1="348.50" y1="317.60" x2="348.50" y2="318.90" stroke="#999" stroke-width="0.9"/>
<line x1="352.50" y1="317.60" x2="352.50" y2="318.90" stroke="#999" stroke-width="0.9"/>
<line x1="356.50" y1="317.60" x2="356.50" y2="318.90" stroke="#999" stroke-width="0.9"/>
<line x1="382.50" y1="317.60" x2="382.50" y2="318.90" stroke="#999" stroke-width="0.9"/>
<line x1="395.50" y1="317.60" x2="395.50" y2="318.90" stroke="#999" stroke-width="0.9"/>
<line x1="404.50" y1="317.60" x2="404.50" y2="318.90" stroke="#999" stroke-width="0.9"/>
<line x1="411.50" y1="317.60" x2="411.50" y2="318.90" stroke="#999" stroke-width="0.9"/>
<line x1="417.50" y1="317.60" x2="417.50" y2="318.90" stroke="#999" stroke-width="0.9"/>
<line x1="422.50" y1="317.60" x2="422.50" y2="318.90" stroke="#999" stroke-width="0.9"/>
<line x1="426.50" y1="317.60" x2="426.50" y2="318.90" stroke="#999" stroke-width="0.9"/>
<line x1="430.50" y1="317.60" x2="430.50" y2="318.90" stroke="#999" stroke-width="0.9"/>
<line x1="359.50" y1="317.60" x2="359.50" y2="319.30" stroke="#9a9a9a" stroke-width="0.9"/>
<line x1="433.50" y1="317.60" x2="433.50" y2="319.30" stroke="#9a9a9a" stroke-width="0.9"/>
<path d="M288.10,225.69L291.90,228.92M291.90,225.69L288.10,228.92" stroke="#1a1a1a" stroke-width="0.95" fill="none"/>
<path d="M288.10,237.49L291.90,240.72M291.90,237.49L288.10,240.72" stroke="#1a1a1a" stroke-width="0.95" fill="none"/>
<path d="M288.10,284.69L291.90,287.92M291.90,284.69L288.10,287.92" stroke="#1a1a1a" stroke-width="0.95" fill="none"/>
<rect x="286.80" y="247.05" width="66.90" height="7.70" fill="#bf00bf"/>
<rect x="287.10" y="247.35" width="66.30" height="7.10" fill="none" stroke="#000" stroke-opacity="0.15" stroke-width="0.6"/>
<rect x="286.80" y="258.85" width="83.90" height="7.70" fill="#bf00bf"/>
<rect x="287.10" y="259.15" width="83.30" height="7.10" fill="none" stroke="#000" stroke-opacity="0.15" stroke-width="0.6"/>
<rect x="286.80" y="270.65" width="44.00" height="7.70" fill="#bf00bf"/>
<rect x="287.10" y="270.95" width="43.40" height="7.10" fill="none" stroke="#000" stroke-opacity="0.15" stroke-width="0.6"/>
<rect x="286.80" y="294.25" width="58.80" height="7.70" fill="#bf00bf"/>
<rect x="287.10" y="294.55" width="58.20" height="7.10" fill="none" stroke="#000" stroke-opacity="0.15" stroke-width="0.6"/>
<rect x="286.80" y="306.05" width="101.00" height="7.70" fill="#bf00bf"/>
<rect x="287.10" y="306.35" width="100.40" height="7.10" fill="none" stroke="#000" stroke-opacity="0.15" stroke-width="0.6"/>
<line x1="353.70" y1="250.50" x2="358.00" y2="250.50" stroke="#f4f4f4" stroke-width="1.0"/>
<line x1="358.50" y1="249.40" x2="358.50" y2="252.40" stroke="#d0d0d0" stroke-width="1.0"/>
<line x1="370.70" y1="262.50" x2="383.40" y2="262.50" stroke="#f6f6f6" stroke-width="1.0"/>
<line x1="383.50" y1="261.20" x2="383.50" y2="264.20" stroke="#c8c8c8" stroke-width="1.0"/>
<line x1="345.60" y1="298.50" x2="355.00" y2="298.50" stroke="#eeeeee" stroke-width="1.0"/>
<line x1="355.50" y1="296.60" x2="355.50" y2="299.60" stroke="#e0e0e0" stroke-width="1.0"/>
<line x1="387.80" y1="309.50" x2="395.40" y2="309.50" stroke="#aaa" stroke-width="1.0"/>
<line x1="395.50" y1="308.40" x2="395.50" y2="311.40" stroke="#aaa" stroke-width="1.0"/>
<polyline points="347.50,273.50 424.50,273.50 424.50,308.50 412.50,308.50" fill="none" stroke="#6e6e6e" stroke-width="1"/>
<circle cx="430.20" cy="287.00" r="1.25" fill="#111"/>
<circle cx="430.20" cy="290.90" r="1.25" fill="#111"/>
<polyline points="357.50,297.50 403.50,297.50 403.50,308.50 398.50,308.50" fill="none" stroke="#6e6e6e" stroke-width="1"/>
<circle cx="407.50" cy="304.30" r="1.05" fill="#111"/>
<text x="360.20" y="344.90" font-size="11.9" text-anchor="middle" font-weight="normal" font-style="normal" fill="#000">IFN<tspan font-size="0.82em">γ</tspan> (pg/mL)</text>
<text x="360.25" y="329.20" font-size="10.5" text-anchor="middle" fill="#000">2×10<tspan font-size="6.30" dx="1.50" dy="-3.40">5</tspan></text>
<text x="433.90" y="329.20" font-size="10.5" text-anchor="middle" fill="#000">4×10<tspan font-size="6.30" dx="1.50" dy="-3.40">5</tspan></text>
<text x="23.20" y="358.80" font-size="11.2" text-anchor="start" font-weight="bold" font-style="normal" fill="#000">D</text>
<line x1="91.50" y1="367.90" x2="91.50" y2="463.60" stroke="#9a9a9a" stroke-width="1.0"/>
<line x1="91.00" y1="463.50" x2="234.40" y2="463.50" stroke="#9a9a9a" stroke-width="1"/>
<line x1="89.70" y1="375.50" x2="91.00" y2="375.50" stroke="#9a9a9a" stroke-width="0.8"/>
<line x1="89.70" y1="387.50" x2="91.00" y2="387.50" stroke="#9a9a9a" stroke-width="0.8"/>
<line x1="89.70" y1="398.50" x2="91.00" y2="398.50" stroke="#9a9a9a" stroke-width="0.8"/>
<line x1="89.70" y1="409.50" x2="91.00" y2="409.50" stroke="#9a9a9a" stroke-width="0.8"/>
<line x1="89.70" y1="421.50" x2="91.00" y2="421.50" stroke="#9a9a9a" stroke-width="0.8"/>
<line x1="89.70" y1="432.50" x2="91.00" y2="432.50" stroke="#9a9a9a" stroke-width="0.8"/>
<line x1="89.70" y1="444.50" x2="91.00" y2="444.50" stroke="#9a9a9a" stroke-width="0.8"/>
<line x1="89.70" y1="455.50" x2="91.00" y2="455.50" stroke="#9a9a9a" stroke-width="0.8"/>
<line x1="105.50" y1="463.60" x2="105.50" y2="464.90" stroke="#999" stroke-width="0.9"/>
<line x1="114.50" y1="463.60" x2="114.50" y2="464.90" stroke="#999" stroke-width="0.9"/>
<line x1="120.50" y1="463.60" x2="120.50" y2="464.90" stroke="#999" stroke-width="0.9"/>
<line x1="124.50" y1="463.60" x2="124.50" y2="464.90" stroke="#999" stroke-width="0.9"/>
<line x1="128.50" y1="463.60" x2="128.50" y2="464.90" stroke="#999" stroke-width="0.9"/>
<line x1="131.50" y1="463.60" x2="131.50" y2="464.90" stroke="#999" stroke-width="0.9"/>
<line x1="134.50" y1="463.60" x2="134.50" y2="464.90" stroke="#999" stroke-width="0.9"/>
<line x1="137.50" y1="463.60" x2="137.50" y2="464.90" stroke="#999" stroke-width="0.9"/>
<line x1="153.50" y1="463.60" x2="153.50" y2="464.90" stroke="#999" stroke-width="0.9"/>
<line x1="161.50" y1="463.60" x2="161.50" y2="464.90" stroke="#999" stroke-width="0.9"/>
<line x1="167.50" y1="463.60" x2="167.50" y2="464.90" stroke="#999" stroke-width="0.9"/>
<line x1="172.50" y1="463.60" x2="172.50" y2="464.90" stroke="#999" stroke-width="0.9"/>
<line x1="176.50" y1="463.60" x2="176.50" y2="464.90" stroke="#999" stroke-width="0.9"/>
<line x1="179.50" y1="463.60" x2="179.50" y2="464.90" stroke="#999" stroke-width="0.9"/>
<line x1="182.50" y1="463.60" x2="182.50" y2="464.90" stroke="#999" stroke-width="0.9"/>
<line x1="184.50" y1="463.60" x2="184.50" y2="464.90" stroke="#999" stroke-width="0.9"/>
<line x1="201.50" y1="463.60" x2="201.50" y2="464.90" stroke="#999" stroke-width="0.9"/>
<line x1="209.50" y1="463.60" x2="209.50" y2="464.90" stroke="#999" stroke-width="0.9"/>
<line x1="215.50" y1="463.60" x2="215.50" y2="464.90" stroke="#999" stroke-width="0.9"/>
<line x1="220.50" y1="463.60" x2="220.50" y2="464.90" stroke="#999" stroke-width="0.9"/>
<line x1="223.50" y1="463.60" x2="223.50" y2="464.90" stroke="#999" stroke-width="0.9"/>
<line x1="227.50" y1="463.60" x2="227.50" y2="464.90" stroke="#999" stroke-width="0.9"/>
<line x1="229.50" y1="463.60" x2="229.50" y2="464.90" stroke="#999" stroke-width="0.9"/>
<line x1="232.50" y1="463.60" x2="232.50" y2="464.90" stroke="#999" stroke-width="0.9"/>
<line x1="139.50" y1="463.60" x2="139.50" y2="465.30" stroke="#9a9a9a" stroke-width="0.9"/>
<line x1="186.50" y1="463.60" x2="186.50" y2="465.30" stroke="#9a9a9a" stroke-width="0.9"/>
<line x1="234.50" y1="463.60" x2="234.50" y2="465.30" stroke="#9a9a9a" stroke-width="0.9"/>
<rect x="92.20" y="372.10" width="3.30" height="7.40" fill="#ff6000"/>
<rect x="92.50" y="372.40" width="2.70" height="6.80" fill="none" stroke="#000" stroke-opacity="0.22" stroke-width="0.6"/>
<rect x="92.20" y="383.47" width="2.80" height="7.40" fill="#ff6000"/>
<rect x="92.50" y="383.77" width="2.20" height="6.80" fill="none" stroke="#000" stroke-opacity="0.22" stroke-width="0.6"/>
<rect x="92.20" y="394.84" width="38.40" height="7.40" fill="#ff6000"/>
<rect x="92.50" y="395.14" width="37.80" height="6.80" fill="none" stroke="#000" stroke-opacity="0.22" stroke-width="0.6"/>
<rect x="92.20" y="406.21" width="74.10" height="7.40" fill="#ff6000"/>
<rect x="92.50" y="406.51" width="73.50" height="6.80" fill="none" stroke="#000" stroke-opacity="0.22" stroke-width="0.6"/>
<rect x="92.20" y="417.58" width="21.80" height="7.40" fill="#ff6000"/>
<rect x="92.50" y="417.88" width="21.20" height="6.80" fill="none" stroke="#000" stroke-opacity="0.22" stroke-width="0.6"/>
<rect x="92.20" y="428.95" width="18.40" height="7.40" fill="#ff6000"/>
<rect x="92.50" y="429.25" width="17.80" height="6.80" fill="none" stroke="#000" stroke-opacity="0.22" stroke-width="0.6"/>
<rect x="92.20" y="440.32" width="41.80" height="7.40" fill="#ff6000"/>
<rect x="92.50" y="440.62" width="41.20" height="6.80" fill="none" stroke="#000" stroke-opacity="0.22" stroke-width="0.6"/>
<rect x="92.20" y="451.69" width="58.70" height="7.40" fill="#ff6000"/>
<rect x="92.50" y="451.99" width="58.10" height="6.80" fill="none" stroke="#000" stroke-opacity="0.22" stroke-width="0.6"/>
<line x1="166.30" y1="409.50" x2="200.20" y2="409.50" stroke="#f6f6f6" stroke-width="1.0"/>
<line x1="200.50" y1="408.41" x2="200.50" y2="411.41" stroke="#d0d0d0" stroke-width="1.0"/>
<line x1="114.00" y1="421.50" x2="123.80" y2="421.50" stroke="#bbb" stroke-width="1.0"/>
<line x1="123.50" y1="419.78" x2="123.50" y2="422.78" stroke="#bbb" stroke-width="1.0"/>
<line x1="110.60" y1="432.50" x2="119.80" y2="432.50" stroke="#ddd" stroke-width="1.0"/>
<line x1="119.50" y1="431.15" x2="119.50" y2="434.15" stroke="#ddd" stroke-width="1.0"/>
<line x1="134.00" y1="444.50" x2="140.20" y2="444.50" stroke="#ddd" stroke-width="1.0"/>
<line x1="140.50" y1="442.52" x2="140.50" y2="445.52" stroke="#ddd" stroke-width="1.0"/>
<line x1="150.90" y1="455.50" x2="162.30" y2="455.50" stroke="#c4c4c4" stroke-width="1.0"/>
<line x1="162.50" y1="453.89" x2="162.50" y2="456.89" stroke="#aaa" stroke-width="1.0"/>
<text x="89.90" y="379.10" font-size="10.8" text-anchor="end" font-weight="normal" font-style="normal" fill="#000">NT</text>
<text x="89.90" y="390.47" font-size="10.8" text-anchor="end" font-weight="normal" font-style="normal" fill="#000">Ctrl</text>
<text x="90.80" y="402.44" font-size="10.6" text-anchor="end" fill="#000"><tspan>28.</tspan><tspan font-style="italic">mζ</tspan></text>
<text x="90.80" y="413.81" font-size="10.6" text-anchor="end" fill="#000"><tspan>28.</tspan><tspan font-style="italic">ζ</tspan></text>
<text x="90.80" y="425.18" font-size="10.6" text-anchor="end" fill="#000"><tspan>BB.</tspan><tspan font-style="italic">mζ</tspan></text>
<text x="90.80" y="436.55" font-size="10.6" text-anchor="end" fill="#000"><tspan font-size="7.4" dy="-5.3">CD8<tspan font-style="italic">tm</tspan></tspan><tspan dy="5.3">BB.</tspan><tspan font-style="italic">mζ</tspan></text>
<text x="90.80" y="447.92" font-size="10.6" text-anchor="end" fill="#000"><tspan font-size="7.4" dy="-5.3">CD8<tspan font-style="italic">tm</tspan></tspan><tspan dy="5.3">BB.</tspan><tspan font-style="italic">ζ</tspan></text>
<text x="90.80" y="459.29" font-size="10.6" text-anchor="end" fill="#000"><tspan>BBL- 28.</tspan><tspan font-style="italic">mζ</tspan></text>
<polyline points="191.50,375.50 194.50,375.50 194.50,387.50 191.50,387.50" fill="none" stroke="#6e6e6e" stroke-width="1"/>
<polyline points="194.50,382.50 217.50,382.50 217.50,408.50 216.50,408.50" fill="none" stroke="#6e6e6e" stroke-width="1"/>
<circle cx="220.30" cy="397.60" r="1.25" fill="#111"/>
<circle cx="220.30" cy="401.20" r="1.25" fill="#111"/>
<polyline points="181.50,400.50 203.50,400.50 203.50,409.50 205.50,409.50 205.50,433.50 148.50,433.50" fill="none" stroke="#6e6e6e" stroke-width="1"/>
<circle cx="205.90" cy="404.60" r="1.05" fill="#111"/>
<circle cx="208.50" cy="422.30" r="1.05" fill="#111"/>
<polyline points="146.50,421.50 148.50,421.50 148.50,443.50 146.50,443.50" fill="none" stroke="#6e6e6e" stroke-width="1"/>
<text x="161.50" y="488.10" font-size="11.9" text-anchor="middle" font-weight="normal" font-style="normal" fill="#000">IL2 (pg/mL)</text>
<text x="139.60" y="474.40" font-size="10.5" text-anchor="middle" fill="#000">2×10<tspan font-size="6.30" dx="1.50" dy="-3.40">3</tspan></text>
<text x="187.15" y="474.40" font-size="10.5" text-anchor="middle" fill="#000">4×10<tspan font-size="6.30" dx="1.50" dy="-3.40">3</tspan></text>
<text x="234.70" y="474.40" font-size="10.5" text-anchor="middle" fill="#000">6×10<tspan font-size="6.30" dx="1.50" dy="-3.40">3</tspan></text>
<line x1="284.60" y1="362.00" x2="284.60" y2="461.70" stroke="#b8b8b8" stroke-width="1.3"/>
<line x1="284.10" y1="461.50" x2="433.80" y2="461.50" stroke="#9a9a9a" stroke-width="1"/>
<line x1="282.80" y1="370.50" x2="284.10" y2="370.50" stroke="#b8b8b8" stroke-width="0.8"/>
<line x1="282.80" y1="382.50" x2="284.10" y2="382.50" stroke="#b8b8b8" stroke-width="0.8"/>
<line x1="282.80" y1="394.50" x2="284.10" y2="394.50" stroke="#b8b8b8" stroke-width="0.8"/>
<line x1="282.80" y1="406.50" x2="284.10" y2="406.50" stroke="#b8b8b8" stroke-width="0.8"/>
<line x1="282.80" y1="417.50" x2="284.10" y2="417.50" stroke="#b8b8b8" stroke-width="0.8"/>
<line x1="282.80" y1="429.50" x2="284.10" y2="429.50" stroke="#b8b8b8" stroke-width="0.8"/>
<line x1="282.80" y1="441.50" x2="284.10" y2="441.50" stroke="#b8b8b8" stroke-width="0.8"/>
<line x1="282.80" y1="453.50" x2="284.10" y2="453.50" stroke="#b8b8b8" stroke-width="0.8"/>
<line x1="307.50" y1="461.70" x2="307.50" y2="463.00" stroke="#999" stroke-width="0.9"/>
<line x1="320.50" y1="461.70" x2="320.50" y2="463.00" stroke="#999" stroke-width="0.9"/>
<line x1="329.50" y1="461.70" x2="329.50" y2="463.00" stroke="#999" stroke-width="0.9"/>
<line x1="336.50" y1="461.70" x2="336.50" y2="463.00" stroke="#999" stroke-width="0.9"/>
<line x1="342.50" y1="461.70" x2="342.50" y2="463.00" stroke="#999" stroke-width="0.9"/>
<line x1="347.50" y1="461.70" x2="347.50" y2="463.00" stroke="#999" stroke-width="0.9"/>
<line x1="352.50" y1="461.70" x2="352.50" y2="463.00" stroke="#999" stroke-width="0.9"/>
<line x1="355.50" y1="461.70" x2="355.50" y2="463.00" stroke="#999" stroke-width="0.9"/>
<line x1="381.50" y1="461.70" x2="381.50" y2="463.00" stroke="#999" stroke-width="0.9"/>
<line x1="394.50" y1="461.70" x2="394.50" y2="463.00" stroke="#999" stroke-width="0.9"/>
<line x1="404.50" y1="461.70" x2="404.50" y2="463.00" stroke="#999" stroke-width="0.9"/>
<line x1="411.50" y1="461.70" x2="411.50" y2="463.00" stroke="#999" stroke-width="0.9"/>
<line x1="417.50" y1="461.70" x2="417.50" y2="463.00" stroke="#999" stroke-width="0.9"/>
<line x1="422.50" y1="461.70" x2="422.50" y2="463.00" stroke="#999" stroke-width="0.9"/>
<line x1="426.50" y1="461.70" x2="426.50" y2="463.00" stroke="#999" stroke-width="0.9"/>
<line x1="430.50" y1="461.70" x2="430.50" y2="463.00" stroke="#999" stroke-width="0.9"/>
<line x1="359.50" y1="461.70" x2="359.50" y2="463.40" stroke="#9a9a9a" stroke-width="0.9"/>
<line x1="433.50" y1="461.70" x2="433.50" y2="463.40" stroke="#9a9a9a" stroke-width="0.9"/>
<path d="M286.70,368.78L290.50,372.01M290.50,368.78L286.70,372.01" stroke="#1a1a1a" stroke-width="0.95" fill="none"/>
<path d="M286.70,380.66L290.50,383.89M290.50,380.66L286.70,383.89" stroke="#1a1a1a" stroke-width="0.95" fill="none"/>
<path d="M286.70,428.18L290.50,431.41M290.50,428.18L286.70,431.41" stroke="#1a1a1a" stroke-width="0.95" fill="none"/>
<rect x="285.50" y="390.36" width="53.50" height="7.60" fill="#ff6000"/>
<rect x="285.80" y="390.66" width="52.90" height="7.00" fill="none" stroke="#000" stroke-opacity="0.22" stroke-width="0.6"/>
<rect x="285.50" y="402.24" width="17.40" height="7.60" fill="#ff6000"/>
<rect x="285.80" y="402.54" width="16.80" height="7.00" fill="none" stroke="#000" stroke-opacity="0.22" stroke-width="0.6"/>
<rect x="285.50" y="414.12" width="30.50" height="7.60" fill="#ff6000"/>
<rect x="285.80" y="414.42" width="29.90" height="7.00" fill="none" stroke="#000" stroke-opacity="0.22" stroke-width="0.6"/>
<rect x="285.50" y="437.88" width="19.70" height="7.60" fill="#ff6000"/>
<rect x="285.80" y="438.18" width="19.10" height="7.00" fill="none" stroke="#000" stroke-opacity="0.22" stroke-width="0.6"/>
<rect x="285.50" y="449.76" width="103.10" height="7.60" fill="#ff6000"/>
<rect x="285.80" y="450.06" width="102.50" height="7.00" fill="none" stroke="#000" stroke-opacity="0.22" stroke-width="0.6"/>
<line x1="339.00" y1="394.50" x2="347.50" y2="394.50" stroke="#777" stroke-width="1.0"/>
<line x1="347.50" y1="392.16" x2="347.50" y2="396.16" stroke="#777" stroke-width="1.0"/>
<line x1="302.90" y1="406.50" x2="311.50" y2="406.50" stroke="#ddd" stroke-width="1.0"/>
<line x1="311.50" y1="404.54" x2="311.50" y2="407.54" stroke="#ddd" stroke-width="1.0"/>
<line x1="316.00" y1="417.50" x2="331.70" y2="417.50" stroke="#bbb" stroke-width="1.0"/>
<line x1="331.50" y1="416.42" x2="331.50" y2="419.42" stroke="#bbb" stroke-width="1.0"/>
<line x1="305.20" y1="441.50" x2="317.70" y2="441.50" stroke="#bbb" stroke-width="1.0"/>
<line x1="317.50" y1="439.68" x2="317.50" y2="443.68" stroke="#bbb" stroke-width="1.0"/>
<line x1="388.60" y1="453.50" x2="404.50" y2="453.50" stroke="#bbb" stroke-width="1.0"/>
<line x1="404.50" y1="451.56" x2="404.50" y2="455.56" stroke="#bbb" stroke-width="1.0"/>
<line x1="408.50" y1="387.90" x2="408.50" y2="442.00" stroke="#6e6e6e" stroke-width="1"/>
<polyline points="408.50,416.50 417.50,416.50 417.50,452.50 416.50,452.50" fill="none" stroke="#6e6e6e" stroke-width="1"/>
<circle cx="420.60" cy="433.20" r="1.25" fill="#111"/>
<circle cx="420.60" cy="436.80" r="1.25" fill="#111"/>
<text x="357.35" y="488.10" font-size="12.1" text-anchor="middle" font-weight="normal" font-style="normal" fill="#000">IL2 (pg/mL)</text>
<text x="359.70" y="473.70" font-size="10.5" text-anchor="middle" fill="#000">2×10<tspan font-size="6.30" dx="1.50" dy="-3.40">3</tspan></text>
<text x="434.10" y="473.70" font-size="10.5" text-anchor="middle" fill="#000">4×10<tspan font-size="6.30" dx="1.50" dy="-3.40">3</tspan></text>
<text x="23.20" y="503.00" font-size="11.2" text-anchor="start" font-weight="bold" font-style="normal" fill="#000">E</text>
<line x1="92.50" y1="511.00" x2="92.50" y2="606.90" stroke="#c8c8c8" stroke-width="1.0"/>
<line x1="92.20" y1="606.50" x2="235.20" y2="606.50" stroke="#9a9a9a" stroke-width="1"/>
<line x1="90.90" y1="518.50" x2="92.20" y2="518.50" stroke="#c8c8c8" stroke-width="0.8"/>
<line x1="90.90" y1="530.50" x2="92.20" y2="530.50" stroke="#c8c8c8" stroke-width="0.8"/>
<line x1="90.90" y1="541.50" x2="92.20" y2="541.50" stroke="#c8c8c8" stroke-width="0.8"/>
<line x1="90.90" y1="553.50" x2="92.20" y2="553.50" stroke="#c8c8c8" stroke-width="0.8"/>
<line x1="90.90" y1="564.50" x2="92.20" y2="564.50" stroke="#c8c8c8" stroke-width="0.8"/>
<line x1="90.90" y1="575.50" x2="92.20" y2="575.50" stroke="#c8c8c8" stroke-width="0.8"/>
<line x1="90.90" y1="587.50" x2="92.20" y2="587.50" stroke="#c8c8c8" stroke-width="0.8"/>
<line x1="90.90" y1="598.50" x2="92.20" y2="598.50" stroke="#c8c8c8" stroke-width="0.8"/>
<line x1="114.50" y1="606.90" x2="114.50" y2="608.20" stroke="#999" stroke-width="0.9"/>
<line x1="126.50" y1="606.90" x2="126.50" y2="608.20" stroke="#999" stroke-width="0.9"/>
<line x1="135.50" y1="606.90" x2="135.50" y2="608.20" stroke="#999" stroke-width="0.9"/>
<line x1="142.50" y1="606.90" x2="142.50" y2="608.20" stroke="#999" stroke-width="0.9"/>
<line x1="148.50" y1="606.90" x2="148.50" y2="608.20" stroke="#999" stroke-width="0.9"/>
<line x1="152.50" y1="606.90" x2="152.50" y2="608.20" stroke="#999" stroke-width="0.9"/>
<line x1="156.50" y1="606.90" x2="156.50" y2="608.20" stroke="#999" stroke-width="0.9"/>
<line x1="160.50" y1="606.90" x2="160.50" y2="608.20" stroke="#999" stroke-width="0.9"/>
<line x1="185.50" y1="606.90" x2="185.50" y2="608.20" stroke="#999" stroke-width="0.9"/>
<line x1="197.50" y1="606.90" x2="197.50" y2="608.20" stroke="#999" stroke-width="0.9"/>
<line x1="206.50" y1="606.90" x2="206.50" y2="608.20" stroke="#999" stroke-width="0.9"/>
<line x1="213.50" y1="606.90" x2="213.50" y2="608.20" stroke="#999" stroke-width="0.9"/>
<line x1="219.50" y1="606.90" x2="219.50" y2="608.20" stroke="#999" stroke-width="0.9"/>
<line x1="224.50" y1="606.90" x2="224.50" y2="608.20" stroke="#999" stroke-width="0.9"/>
<line x1="228.50" y1="606.90" x2="228.50" y2="608.20" stroke="#999" stroke-width="0.9"/>
<line x1="231.50" y1="606.90" x2="231.50" y2="608.20" stroke="#999" stroke-width="0.9"/>
<line x1="163.50" y1="606.90" x2="163.50" y2="608.60" stroke="#9a9a9a" stroke-width="0.9"/>
<line x1="235.50" y1="606.90" x2="235.50" y2="608.60" stroke="#9a9a9a" stroke-width="0.9"/>
<rect x="93.00" y="537.95" width="9.50" height="7.50" fill="#fa1e12"/>
<rect x="93.30" y="538.25" width="8.90" height="6.90" fill="none" stroke="#000" stroke-opacity="0.22" stroke-width="0.6"/>
<rect x="93.00" y="549.35" width="11.25" height="7.50" fill="#fa1e12"/>
<rect x="93.30" y="549.65" width="10.65" height="6.90" fill="none" stroke="#000" stroke-opacity="0.22" stroke-width="0.6"/>
<rect x="93.00" y="560.75" width="10.75" height="7.50" fill="#fa1e12"/>
<rect x="93.30" y="561.05" width="10.15" height="6.90" fill="none" stroke="#000" stroke-opacity="0.22" stroke-width="0.6"/>
<rect x="93.00" y="572.15" width="3.50" height="7.50" fill="#fa1e12"/>
<rect x="93.30" y="572.45" width="2.90" height="6.90" fill="none" stroke="#000" stroke-opacity="0.22" stroke-width="0.6"/>
<rect x="93.00" y="583.55" width="10.25" height="7.50" fill="#fa1e12"/>
<rect x="93.30" y="583.85" width="9.65" height="6.90" fill="none" stroke="#000" stroke-opacity="0.22" stroke-width="0.6"/>
<rect x="93.00" y="594.95" width="74.90" height="7.50" fill="#fa1e12"/>
<rect x="93.30" y="595.25" width="74.30" height="6.90" fill="none" stroke="#000" stroke-opacity="0.22" stroke-width="0.6"/>
<line x1="103.25" y1="587.50" x2="105.00" y2="587.50" stroke="#bbb" stroke-width="1.0"/>
<line x1="105.50" y1="585.80" x2="105.50" y2="588.80" stroke="#bbb" stroke-width="1.0"/>
<line x1="167.90" y1="598.50" x2="208.30" y2="598.50" stroke="#ccc" stroke-width="1.0"/>
<line x1="208.50" y1="597.20" x2="208.50" y2="600.20" stroke="#ccc" stroke-width="1.0"/>
<text x="90.70" y="522.20" font-size="10.5" text-anchor="end" font-weight="normal" font-style="normal" fill="#000">NT</text>
<text x="90.70" y="533.60" font-size="10.5" text-anchor="end" font-weight="normal" font-style="normal" fill="#000">Ctrl</text>
<text x="91.40" y="545.40" font-size="10.6" text-anchor="end" fill="#000"><tspan>28.</tspan><tspan font-style="italic">mζ</tspan></text>
<text x="91.40" y="556.80" font-size="10.6" text-anchor="end" fill="#000"><tspan>28.</tspan><tspan font-style="italic">ζ</tspan></text>
<text x="91.40" y="568.20" font-size="10.6" text-anchor="end" fill="#000"><tspan>BB.</tspan><tspan font-style="italic">mζ</tspan></text>
<text x="91.40" y="579.60" font-size="10.6" text-anchor="end" fill="#000"><tspan font-size="7.4" dy="-5.3">CD8<tspan font-style="italic">tm</tspan></tspan><tspan dy="5.3">BB.</tspan><tspan font-style="italic">mζ</tspan></text>
<text x="91.40" y="591.00" font-size="10.6" text-anchor="end" fill="#000"><tspan font-size="7.4" dy="-5.3">CD8<tspan font-style="italic">tm</tspan></tspan><tspan dy="5.3">BB.</tspan><tspan font-style="italic">ζ</tspan></text>
<text x="91.40" y="602.40" font-size="10.6" text-anchor="end" fill="#000"><tspan>BBL- 28.</tspan><tspan font-style="italic">mζ</tspan></text>
<polyline points="118.50,517.50 122.50,517.50 122.50,531.50 118.50,531.50" fill="none" stroke="#6e6e6e" stroke-width="1"/>
<polyline points="122.50,524.50 236.50,524.50 236.50,596.50 232.50,596.50" fill="none" stroke="#6e6e6e" stroke-width="1"/>
<circle cx="241.50" cy="555.00" r="1.25" fill="#111"/>
<circle cx="241.50" cy="558.90" r="1.25" fill="#111"/>
<circle cx="241.50" cy="562.80" r="1.25" fill="#111"/>
<line x1="215.50" y1="540.00" x2="215.50" y2="584.40" stroke="#6e6e6e" stroke-width="1"/>
<polyline points="215.50,566.50 225.50,566.50 225.50,597.50 213.50,597.50" fill="none" stroke="#6e6e6e" stroke-width="1"/>
<circle cx="228.60" cy="580.50" r="1.25" fill="#111"/>
<circle cx="228.60" cy="584.10" r="1.25" fill="#111"/>
<text x="162.50" y="631.30" font-size="11.6" text-anchor="middle" font-weight="normal" font-style="normal" fill="#000">GMCSF (pg/mL)</text>
<text x="164.15" y="617.10" font-size="10.5" text-anchor="middle" fill="#000">2×10<tspan font-size="6.30" dx="1.50" dy="-3.40">5</tspan></text>
<text x="235.50" y="617.10" font-size="10.5" text-anchor="middle" fill="#000">4×10<tspan font-size="6.30" dx="1.50" dy="-3.40">5</tspan></text>
<line x1="284.60" y1="505.20" x2="284.60" y2="605.00" stroke="#b8b8b8" stroke-width="1.3"/>
<line x1="284.10" y1="604.50" x2="433.80" y2="604.50" stroke="#9a9a9a" stroke-width="1"/>
<line x1="282.80" y1="513.50" x2="284.10" y2="513.50" stroke="#b8b8b8" stroke-width="0.8"/>
<line x1="282.80" y1="525.50" x2="284.10" y2="525.50" stroke="#b8b8b8" stroke-width="0.8"/>
<line x1="282.80" y1="537.50" x2="284.10" y2="537.50" stroke="#b8b8b8" stroke-width="0.8"/>
<line x1="282.80" y1="549.50" x2="284.10" y2="549.50" stroke="#b8b8b8" stroke-width="0.8"/>
<line x1="282.80" y1="561.50" x2="284.10" y2="561.50" stroke="#b8b8b8" stroke-width="0.8"/>
<line x1="282.80" y1="573.50" x2="284.10" y2="573.50" stroke="#b8b8b8" stroke-width="0.8"/>
<line x1="282.80" y1="584.50" x2="284.10" y2="584.50" stroke="#b8b8b8" stroke-width="0.8"/>
<line x1="282.80" y1="596.50" x2="284.10" y2="596.50" stroke="#b8b8b8" stroke-width="0.8"/>
<line x1="307.50" y1="605.00" x2="307.50" y2="606.30" stroke="#999" stroke-width="0.9"/>
<line x1="320.50" y1="605.00" x2="320.50" y2="606.30" stroke="#999" stroke-width="0.9"/>
<line x1="329.50" y1="605.00" x2="329.50" y2="606.30" stroke="#999" stroke-width="0.9"/>
<line x1="336.50" y1="605.00" x2="336.50" y2="606.30" stroke="#999" stroke-width="0.9"/>
<line x1="342.50" y1="605.00" x2="342.50" y2="606.30" stroke="#999" stroke-width="0.9"/>
<line x1="347.50" y1="605.00" x2="347.50" y2="606.30" stroke="#999" stroke-width="0.9"/>
<line x1="351.50" y1="605.00" x2="351.50" y2="606.30" stroke="#999" stroke-width="0.9"/>
<line x1="355.50" y1="605.00" x2="355.50" y2="606.30" stroke="#999" stroke-width="0.9"/>
<line x1="381.50" y1="605.00" x2="381.50" y2="606.30" stroke="#999" stroke-width="0.9"/>
<line x1="394.50" y1="605.00" x2="394.50" y2="606.30" stroke="#999" stroke-width="0.9"/>
<line x1="404.50" y1="605.00" x2="404.50" y2="606.30" stroke="#999" stroke-width="0.9"/>
<line x1="411.50" y1="605.00" x2="411.50" y2="606.30" stroke="#999" stroke-width="0.9"/>
<line x1="417.50" y1="605.00" x2="417.50" y2="606.30" stroke="#999" stroke-width="0.9"/>
<line x1="422.50" y1="605.00" x2="422.50" y2="606.30" stroke="#999" stroke-width="0.9"/>
<line x1="426.50" y1="605.00" x2="426.50" y2="606.30" stroke="#999" stroke-width="0.9"/>
<line x1="430.50" y1="605.00" x2="430.50" y2="606.30" stroke="#999" stroke-width="0.9"/>
<line x1="359.50" y1="605.00" x2="359.50" y2="606.70" stroke="#9a9a9a" stroke-width="0.9"/>
<line x1="433.50" y1="605.00" x2="433.50" y2="606.70" stroke="#9a9a9a" stroke-width="0.9"/>
<path d="M286.90,511.88L290.70,515.12M290.70,511.88L286.90,515.12" stroke="#1a1a1a" stroke-width="0.95" fill="none"/>
<path d="M286.90,523.78L290.70,527.01M290.70,523.78L286.90,527.01" stroke="#1a1a1a" stroke-width="0.95" fill="none"/>
<path d="M286.90,571.38L290.70,574.62M290.70,571.38L286.90,574.62" stroke="#1a1a1a" stroke-width="0.95" fill="none"/>
<rect x="285.10" y="533.65" width="4.30" height="7.30" fill="#fa1e12"/>
<rect x="285.40" y="533.95" width="3.70" height="6.70" fill="none" stroke="#000" stroke-opacity="0.22" stroke-width="0.6"/>
<rect x="285.10" y="545.55" width="5.90" height="7.30" fill="#fa1e12"/>
<rect x="285.40" y="545.85" width="5.30" height="6.70" fill="none" stroke="#000" stroke-opacity="0.22" stroke-width="0.6"/>
<rect x="285.10" y="557.45" width="6.90" height="7.30" fill="#fa1e12"/>
<rect x="285.40" y="557.75" width="6.30" height="6.70" fill="none" stroke="#000" stroke-opacity="0.22" stroke-width="0.6"/>
<rect x="285.10" y="581.25" width="2.90" height="7.30" fill="#fa1e12"/>
<rect x="285.40" y="581.55" width="2.30" height="6.70" fill="none" stroke="#000" stroke-opacity="0.22" stroke-width="0.6"/>
<rect x="285.10" y="593.15" width="41.90" height="7.30" fill="#fa1e12"/>
<rect x="285.40" y="593.45" width="41.30" height="6.70" fill="none" stroke="#000" stroke-opacity="0.22" stroke-width="0.6"/>
<line x1="292.00" y1="561.50" x2="295.20" y2="561.50" stroke="#ccc" stroke-width="1.0"/>
<line x1="295.50" y1="559.60" x2="295.50" y2="562.60" stroke="#ccc" stroke-width="1.0"/>
<line x1="327.00" y1="596.50" x2="343.00" y2="596.50" stroke="#ddd" stroke-width="1.0"/>
<line x1="343.50" y1="595.30" x2="343.50" y2="598.30" stroke="#ddd" stroke-width="1.0"/>
<line x1="349.50" y1="532.30" x2="349.50" y2="586.50" stroke="#6e6e6e" stroke-width="1"/>
<polyline points="349.50,560.50 359.50,560.50 359.50,597.50 347.50,597.50" fill="none" stroke="#6e6e6e" stroke-width="1"/>
<circle cx="363.10" cy="578.50" r="1.05" fill="#111"/>
<text x="357.40" y="631.00" font-size="12.3" text-anchor="middle" font-weight="normal" font-style="normal" fill="#000">GMCSF (pg/mL)</text>
<text x="359.50" y="617.10" font-size="10.5" text-anchor="middle" fill="#000">1×10<tspan font-size="6.30" dx="1.50" dy="-3.40">5</tspan></text>
<text x="434.10" y="617.10" font-size="10.5" text-anchor="middle" fill="#000">2×10<tspan font-size="6.30" dx="1.50" dy="-3.40">5</tspan></text>
</svg>
</body></html>
